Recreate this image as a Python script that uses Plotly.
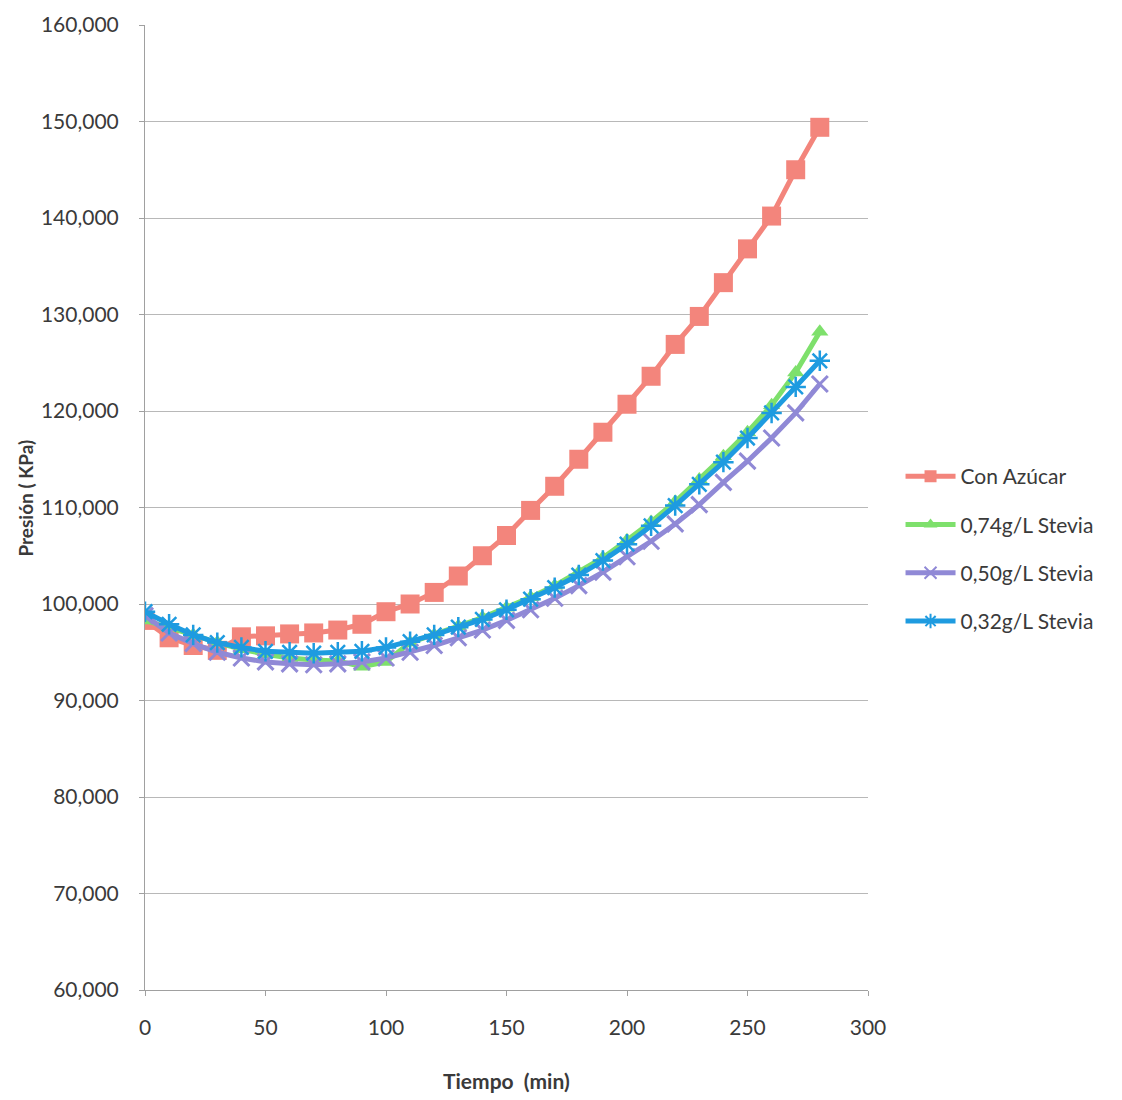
import plotly.graph_objects as go

tiempo = list(range(0, 290, 10))

con_azucar = [98300, 96500, 95700, 95200, 96600, 96700, 96900, 97000, 97300, 97900,
              99200, 100000, 101200, 102900, 105000, 107100, 109700, 112200, 115000, 117800,
              120700, 123600, 126900, 129800, 133300, 136800, 140200, 145000, 149400]

stevia_074 = [98300, 97600, 96800, 96000, 95300, 94800, 94400, 94200, 94100, 93500,
              94000, 96000, 96800, 97700, 98600, 99600, 100700, 101900, 103300, 104800,
              106600, 108500, 110600, 112900, 115300, 117800, 120600, 124000, 128200]

stevia_050 = [98800, 97000, 95900, 95000, 94400, 94000, 93800, 93700, 93800, 94000,
              94400, 95000, 95700, 96500, 97300, 98300, 99400, 100600, 101900, 103300,
              104900, 106500, 108300, 110300, 112600, 114800, 117200, 119800, 122800]

stevia_032 = [99200, 97900, 96800, 96000, 95500, 95100, 95000, 94900, 95000, 95100,
              95500, 96100, 96800, 97600, 98400, 99400, 100500, 101700, 103000, 104500,
              106200, 108100, 110200, 112400, 114700, 117200, 119800, 122500, 125200]

series_names = ["Con Azúcar", "0,74g/L Stevia", "0,50g/L Stevia", "0,32g/L Stevia"]

fig = go.Figure()

fig.add_trace(go.Scatter(
    x=tiempo, y=con_azucar, name=series_names[0], mode="lines+markers", legendgroup="a",
    line=dict(color="#F3857C", width=5),
    marker=dict(symbol="square", size=19, color="#F3857C")))

fig.add_trace(go.Scatter(
    x=tiempo, y=stevia_074, name=series_names[1], mode="lines+markers", legendgroup="b",
    line=dict(color="#7EE06C", width=5),
    marker=dict(symbol="triangle-up", size=15, color="#7EE06C")))

fig.add_trace(go.Scatter(
    x=tiempo, y=stevia_050, name=series_names[2], mode="lines+markers", legendgroup="c",
    line=dict(color="#9089D6", width=5),
    marker=dict(symbol="x-thin-open", size=16, line=dict(color="#9089D6", width=3))))

fig.add_trace(go.Scatter(
    x=tiempo, y=stevia_032, name=series_names[3], mode="lines+markers", legendgroup="d",
    line=dict(color="#1E9BE0", width=5),
    marker=dict(symbol="asterisk-open", size=17, line=dict(color="#1E9BE0", width=2.5))))

font_family = "Lato, 'Open Sans', sans-serif"

fig.update_layout(
    width=1122, height=1100,
    paper_bgcolor="white", plot_bgcolor="white",
    margin=dict(l=137, r=262, t=17, b=118, autoexpand=False),
    font=dict(family=font_family, size=20, color="#3a3a3a"),
    showlegend=True,
    legend=dict(x=1.045, y=0.457, xanchor="left", yanchor="middle",
                font=dict(size=21, color="#3a3a3a"), tracegroupgap=18,
                itemwidth=50, itemsizing="constant", bgcolor="rgba(0,0,0,0)"),
    xaxis=dict(range=[0, 300], tickvals=[0, 50, 100, 150, 200, 250, 300],
               showgrid=False, showline=True, linecolor="#a0a0a0", linewidth=1,
               ticks="outside", ticklen=5, tickcolor="#a0a0a0", automargin=False,
               ticklabelstandoff=14, ticklabeloverflow="allow",
               tickfont=dict(size=21, color="#3a3a3a"), zeroline=False),
    yaxis=dict(range=[60000, 160000], dtick=10000, tickformat=",d",
               showgrid=True, gridcolor="#b8b8b8", gridwidth=1,
               showline=True, linecolor="#a0a0a0", linewidth=1,
               ticks="outside", ticklen=5, tickcolor="#a0a0a0", automargin=False,
               ticklabelstandoff=16, ticklabeloverflow="allow",
               tickfont=dict(size=21, color="#3a3a3a"), zeroline=False),
    annotations=[
        dict(text="<b>Tiempo  (min)</b>", x=0.5, y=-0.094, xref="paper", yref="paper",
             xanchor="center", yanchor="middle", showarrow=False,
             font=dict(size=21, color="#3a3a3a")),
        dict(text="<b>Presión ( KPa)</b>", x=-0.165, y=0.51, xref="paper", yref="paper",
             xanchor="center", yanchor="middle", showarrow=False, textangle=-90,
             font=dict(size=19, color="#3a3a3a")),
    ],
)

fig.write_html("out.html")
